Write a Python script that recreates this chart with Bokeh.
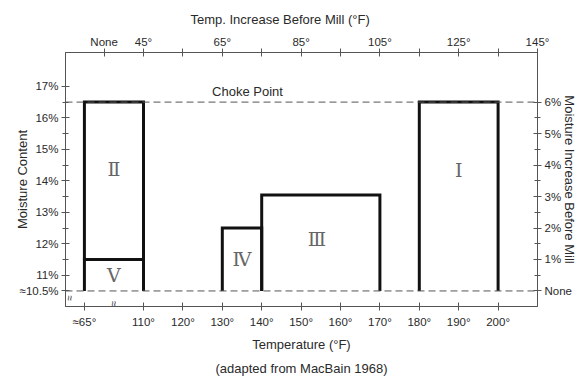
import math
from bokeh.plotting import figure
from bokeh.models import Range1d, LinearAxis, FixedTicker, Span, Label, ColumnDataSource, Title
from bokeh.core.properties import value
from bokeh.embed import file_html
from bokeh.resources import INLINE

# ---------------- data ----------------
zones = ["I", "II", "III", "IV", "V"]
zone_glyphs = ["\u2160", "\u2161", "\u2162", "\u2163", "\u2164"]
temp_low = [180, 65, 140, 130, 65]          # deg F
temp_high = [200, 110, 170, 140, 110]       # deg F
moist_low = [10.5, 11.5, 10.5, 10.5, 10.5]  # % moisture
moist_high = [16.5, 16.5, 13.55, 12.5, 11.5]
label_temp = [190, 87.5, 154, 135, 87.5]
label_moist = [14.33, 14.37, 12.14, 11.53, 11.02]

choke_point = 16.5
baseline_moisture = 10.5

bottom_ticks = [65, 110, 120, 130, 140, 150, 160, 170, 180, 190, 200]
bottom_labels = ["\u224865\u00b0", "110\u00b0", "120\u00b0", "130\u00b0", "140\u00b0", "150\u00b0",
                 "160\u00b0", "170\u00b0", "180\u00b0", "190\u00b0", "200\u00b0"]
top_ticks = [0, 45, 55, 65, 75, 85, 95, 105, 115, 125, 135, 145]
top_labels = ["None", "45\u00b0", "", "65\u00b0", "", "85\u00b0", "", "105\u00b0", "", "125\u00b0", "", "145\u00b0"]
left_ticks = [10.5, 11, 12, 13, 14, 15, 16, 17]
left_labels = ["\u224810.5%", "11%", "12%", "13%", "14%", "15%", "16%", "17%"]
left_minor = [11.5, 12.5, 13.5, 14.5, 15.5, 16.5]
right_ticks = [0, 1, 2, 3, 4, 5, 6]
right_labels = ["None", "1%", "2%", "3%", "4%", "5%", "6%"]
right_minor = [0.5, 1.5, 2.5, 3.5, 4.5, 5.5]


# broken temperature axis: 65 deg F sits just before the 110 deg F tick
def temp_pos(t):
    return t if t >= 110 else 95 + (t - 65) * (15 / 45)


def inc_pos(i):
    return temp_pos(i + 65) if i >= 45 else 100


FONT = "Liberation Sans"
TXT = "#2a2a2a"
LINE = "#555555"

xr = Range1d(90.2, 210)
yr = Range1d(10.006, 18.076)

p = figure(width=580, height=379, x_range=xr, y_range=yr,
           x_axis_location=None, y_axis_location=None,
           toolbar_location=None, output_backend="svg",
           min_border_left=65, min_border_right=43, min_border_top=52, min_border_bottom=72)
p.grid.visible = False
p.outline_line_color = LINE
p.outline_line_width = 1
p.background_fill_color = "white"
p.border_fill_color = "white"


def style(ax):
    ax.axis_line_color = LINE
    ax.major_tick_line_color = LINE
    ax.minor_tick_line_color = LINE
    ax.major_tick_in = 4
    ax.major_tick_out = 4
    ax.minor_tick_in = 3
    ax.minor_tick_out = 3
    ax.major_label_text_font = FONT
    ax.major_label_text_font_size = "11.5px"
    ax.major_label_text_color = TXT
    ax.major_label_standoff = 3
    ax.axis_label_text_font = FONT
    ax.axis_label_text_font_size = "13px"
    ax.axis_label_text_font_style = "normal"
    ax.axis_label_text_color = TXT


bpos = [temp_pos(t) for t in bottom_ticks]
bottom = LinearAxis(ticker=FixedTicker(ticks=bpos, minor_ticks=[]),
                    major_label_overrides={b: l for b, l in zip(bpos, bottom_labels)},
                    axis_label="Temperature (\u00b0F)")
style(bottom)
bottom.major_label_standoff = 5
bottom.axis_label_standoff = 6
p.add_layout(bottom, "below")

tpos = [inc_pos(i) for i in top_ticks]
top = LinearAxis(ticker=FixedTicker(ticks=tpos, minor_ticks=[]),
                 major_label_overrides={t: l for t, l in zip(tpos, top_labels)})
style(top)
top.major_label_standoff = 1
p.add_layout(top, "above")

left = LinearAxis(ticker=FixedTicker(ticks=left_ticks, minor_ticks=left_minor),
                  major_label_overrides={t: l for t, l in zip(left_ticks, left_labels)},
                  axis_label="Moisture Content")
style(left)
left.axis_label_standoff = -13
p.add_layout(left, "left")

rpos = [baseline_moisture + r for r in right_ticks]
right = LinearAxis(ticker=FixedTicker(ticks=rpos,
                                      minor_ticks=[baseline_moisture + r for r in right_minor]),
                   major_label_overrides={t: l for t, l in zip(rpos, right_labels)},
                   axis_label="Moisture Increase Before Mill")
style(right)
right.axis_label_standoff = -13
p.add_layout(right, "right")

top_title = Title(text="Temp. Increase Before Mill (\u00b0F)", align="left", offset=125,
                  standoff=12, text_font=FONT, text_font_size="13px",
                  text_font_style="normal", text_color=TXT)
p.add_layout(top_title, "above")

caption = Title(text="(adapted from MacBain 1968)", align="center",
                standoff=8, text_font=FONT, text_font_size="13px",
                text_font_style="normal", text_color=TXT)
p.add_layout(caption, "below")

# dashed reference lines
for loc in (choke_point, baseline_moisture):
    p.add_layout(Span(location=loc, dimension="width", line_color=LINE,
                      line_width=1, line_dash="7 4"))

# zone boxes (open at the bottom)
xs, ys = [], []
for lo, hi, mlo, mhi in zip(temp_low, temp_high, moist_low, moist_high):
    xs.append([temp_pos(lo), temp_pos(lo), temp_pos(hi), temp_pos(hi)])
    ys.append([mlo, mhi, mhi, mlo])
p.multi_line(xs=xs, ys=ys, line_color="#111111", line_width=3, line_join="miter")

src = ColumnDataSource(dict(x=[temp_pos(t) for t in label_temp], y=label_moist, t=zone_glyphs))
p.text(x="x", y="y", text="t", source=src, text_align="center", text_baseline="middle",
       text_font=value("DejaVu Serif"), text_font_size=value("19px"), text_color="#666666")

p.add_layout(Label(x=xr.start, y=choke_point, x_offset=182, y_offset=11, text="Choke Point",
                   text_font=FONT, text_font_size="13px", text_color=TXT,
                   text_align="center", text_baseline="middle"))

# axis break marks (drawn just inside the frame)
p.add_layout(Label(x=temp_pos(87.5), y=yr.start, y_offset=3, text="\u2248", angle=math.pi / 2,
                   text_font=FONT, text_font_size="10px", text_color=TXT,
                   text_align="center", text_baseline="middle"))
p.add_layout(Label(x=xr.start, y=baseline_moisture, x_offset=4, y_offset=-7, text="\u2248",
                   angle=math.pi / 2,
                   text_font=FONT, text_font_size="10px", text_color=TXT,
                   text_align="center", text_baseline="middle"))

open("out.html", "w").write(file_html(p, INLINE))
